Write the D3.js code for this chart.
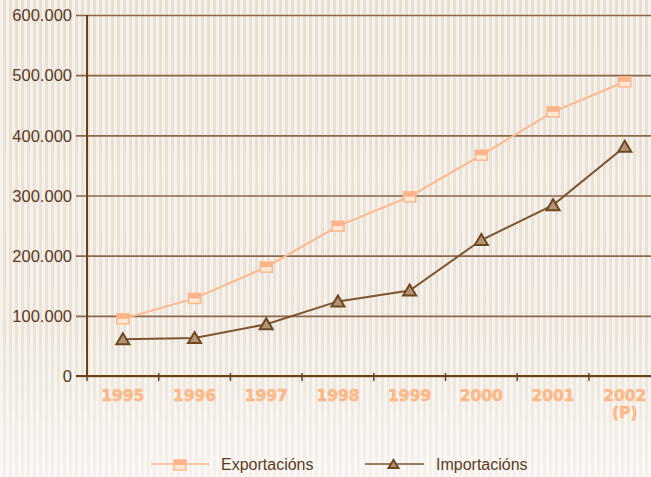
<!DOCTYPE html>
<html>
<head>
<meta charset="utf-8">
<script src="https://cdn.jsdelivr.net/npm/d3@7"></script>
<style>
  html, body { margin: 0; padding: 0; background: #fff; }
  svg { display: block; }
</style>
</head>
<body>
<svg id="chart" width="651" height="477"></svg>
<script>
// Years on the category axis and their display labels
const years = ["1995", "1996", "1997", "1998", "1999", "2000", "2001", "2002"];
const yearLabels = [["1995"], ["1996"], ["1997"], ["1998"], ["1999"], ["2000"], ["2001"], ["2002", "(P)"]];

// Series values
const exportacions = [95000, 129000, 181000, 249000, 298000, 367000, 439000, 489000];
const importacions = [61000, 63000, 86000, 124000, 142000, 226000, 284000, 381000];

// Value axis ticks
const yTicks = [0, 100000, 200000, 300000, 400000, 500000, 600000];

const seriesNames = ["Exportacións", "Importacións"];

const W = 651, H = 477;
const plotLeft = 87, plotTop = 15, plotBottom = 376;
const bandW = 71.7;

const svg = d3.select("#chart");

// Striped background with a lighter fade toward the bottom
const defs = svg.append("defs");
const pat = defs.append("pattern")
  .attr("id", "stripes").attr("patternUnits", "userSpaceOnUse")
  .attr("width", 6).attr("height", 10);
pat.append("rect").attr("width", 6).attr("height", 10).attr("fill", "#f6f1ea");
pat.append("rect").attr("x", 3).attr("width", 3).attr("height", 10).attr("fill", "#e9e0d5");
const fade = defs.append("linearGradient").attr("id", "fade")
  .attr("x1", 0).attr("y1", 0).attr("x2", 0).attr("y2", 1);
fade.append("stop").attr("offset", "0").attr("stop-color", "#fff").attr("stop-opacity", 0);
fade.append("stop").attr("offset", "0.7").attr("stop-color", "#fff").attr("stop-opacity", 0.08);
fade.append("stop").attr("offset", "1").attr("stop-color", "#fff").attr("stop-opacity", 0.55);
svg.append("rect").attr("width", W).attr("height", H).attr("fill", "url(#stripes)");
svg.append("rect").attr("width", W).attr("height", H).attr("fill", "url(#fade)");

const x = d3.scaleBand().domain(years).range([plotLeft, plotLeft + bandW * years.length]);
const y = d3.scaleLinear().domain([0, 600000]).range([plotBottom, plotTop]);

const locale = d3.formatLocale({ decimal: ",", thousands: ".", grouping: [3], currency: ["", "€"] });
const fmt = locale.format(",d");

// Horizontal gridlines + value labels, from an axis anchored at the right edge
const gridLen = W - 76;
const yAxis = svg.append("g")
  .attr("transform", `translate(${W},0)`)
  .call(d3.axisLeft(y).tickValues(yTicks).tickSize(gridLen).tickPadding(4).tickFormat(fmt));
yAxis.select(".domain").remove();
yAxis.selectAll(".tick line")
  .attr("stroke", "#7f5a3a").attr("stroke-width", 1.6).attr("stroke-opacity", 0.9);
yAxis.selectAll(".tick text")
  .attr("fill", "#5c3b1e")
  .attr("font-family", "'Liberation Sans', Arial, sans-serif")
  .attr("font-size", 16.5)
  .attr("dy", "0.35em");

// Vertical axis line
svg.append("line")
  .attr("x1", plotLeft).attr("x2", plotLeft).attr("y1", plotTop).attr("y2", plotBottom)
  .attr("stroke", "#6b4218").attr("stroke-width", 2);

// Category axis: baseline, boundary ticks, bold labels
svg.append("line")
  .attr("x1", 76).attr("x2", W).attr("y1", plotBottom).attr("y2", plotBottom)
  .attr("stroke", "#6b4218").attr("stroke-width", 2);
svg.append("g").selectAll("line").data(years).join("line")
  .attr("x1", d => x(d)).attr("x2", d => x(d))
  .attr("y1", plotBottom - 3).attr("y2", plotBottom + 5)
  .attr("stroke", "#6b4218").attr("stroke-width", 1.5);

const xl = svg.append("g").selectAll("text").data(years).join("text")
  .attr("x", d => x(d) + x.bandwidth() / 2)
  .attr("y", 401)
  .attr("text-anchor", "middle")
  .attr("fill", "#fdb98a")
  .attr("stroke", "#fdb98a")
  .attr("stroke-width", 0.6)
  .attr("font-family", "'DejaVu Sans', sans-serif")
  .attr("font-weight", "bold")
  .attr("font-size", 15.5);
xl.selectAll("tspan").data((d, i) => yearLabels[i]).join("tspan")
  .attr("x", function () { return d3.select(this.parentNode).attr("x"); })
  .attr("dy", (d, i) => i === 0 ? 0 : 17)
  .text(d => d);

const cx = d => x(d) + x.bandwidth() / 2;

// Lines
const line = d3.line().x((d, i) => cx(years[i])).y(d => y(d));
svg.append("path").datum(exportacions).attr("d", line)
  .attr("fill", "none").attr("stroke", "#fdb88c").attr("stroke-width", 2);
svg.append("path").datum(importacions).attr("d", line)
  .attr("fill", "none").attr("stroke", "#7d5530").attr("stroke-width", 2);

// Markers
function squareMarker(g, px, py, w, h) {
  g.append("rect").attr("x", px - w / 2).attr("y", py - h / 2).attr("width", w).attr("height", h)
    .attr("fill", "#fde8d6").attr("stroke", "#fdb88c").attr("stroke-width", 1.5);
  g.append("rect").attr("x", px - w / 2).attr("y", py - h / 2).attr("width", w).attr("height", h / 2)
    .attr("fill", "#fdb48a");
}
function triMarker(g, px, py, w, h) {
  g.append("path")
    .attr("d", `M${px},${py - h / 2 - 1}L${px + w / 2},${py + h / 2}L${px - w / 2},${py + h / 2}Z`)
    .attr("fill", "#b39574").attr("stroke", "#6e4822").attr("stroke-width", 2)
    .attr("stroke-linejoin", "miter");
}
const mk = svg.append("g");
exportacions.forEach((v, i) => squareMarker(mk, cx(years[i]), y(v), 12, 10));
importacions.forEach((v, i) => triMarker(mk, cx(years[i]), y(v), 13, 10));

// Legend
const lg = svg.append("g");
const legendY = 464;
lg.append("line").attr("x1", 151).attr("x2", 209).attr("y1", legendY).attr("y2", legendY)
  .attr("stroke", "#fdb88c").attr("stroke-width", 1.5);
squareMarker(lg, 180, legendY + 1, 12, 10);
lg.append("text").attr("x", 221).attr("y", 470).text(seriesNames[0]);
lg.append("line").attr("x1", 365).attr("x2", 424).attr("y1", legendY).attr("y2", legendY)
  .attr("stroke", "#7d5530").attr("stroke-width", 1.5);
triMarker(lg, 393.5, legendY + 0.5, 10, 7);
lg.append("text").attr("x", 436).attr("y", 470).text(seriesNames[1]);
lg.selectAll("text")
  .attr("fill", "#5c3b1e")
  .attr("font-family", "'Liberation Sans', Arial, sans-serif")
  .attr("font-size", 16);
</script>
</body>
</html>
